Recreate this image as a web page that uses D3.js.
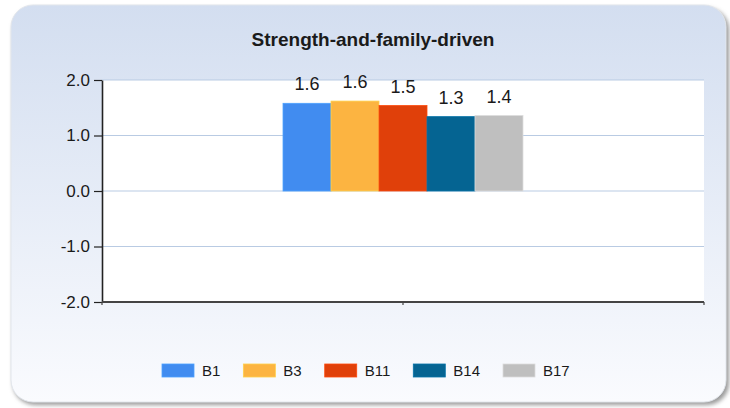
<!DOCTYPE html>
<meta charset="utf-8">
<style>
body { margin: 0; background: #fff; }
svg { display: block; font-family: "Liberation Sans", Arial, sans-serif; }
.grid line { stroke: #b9cbe3; stroke-width: 1px; }
.label { fill: #1a1a1a; }
</style>
<svg width="730" height="408"></svg>
<script src="https://d3js.org/d3.v7.min.js"></script>
<script>

// chart data
var title = "Strength-and-family-driven";
var categories = [""];
var series = ["B1", "B3", "B11", "B14", "B17"];
var values = [1.58, 1.62, 1.54, 1.34, 1.36];
var colors = ["#418cf0", "#fcb441", "#e0400a", "#056492", "#bfbfbf"];
var yTicks = [-2, -1, 0, 1, 2];

var svg = d3.select("svg");

// plain hyphen for negatives, like the original
var fmt = d3.formatLocale({ decimal: ".", thousands: ",", grouping: [3], currency: ["", ""], minus: "-" }).format(".1f");

// panel with gradient + soft shadow
var defs = svg.append("defs");
var grad = defs.append("linearGradient")
    .attr("id", "bg").attr("x1", 0).attr("y1", 0).attr("x2", 0).attr("y2", 1);
grad.append("stop").attr("offset", "0%").attr("stop-color", "#d3def0");
grad.append("stop").attr("offset", "100%").attr("stop-color", "#fafbfe");

var shadow = defs.append("filter").attr("id", "blur")
    .attr("x", "-5%").attr("y", "-5%").attr("width", "110%").attr("height", "110%");
shadow.append("feGaussianBlur").attr("stdDeviation", 2);

svg.append("rect")
    .attr("x", 13).attr("y", 8).attr("width", 716).attr("height", 397)
    .attr("rx", 22).attr("fill", "#9a9a9a").attr("filter", "url(#blur)");
svg.append("rect")
    .attr("x", 11).attr("y", 5).attr("width", 715).attr("height", 397)
    .attr("rx", 22).attr("fill", "url(#bg)")
    .attr("stroke", "#e2e6ec").attr("stroke-width", 1);

// plot area
var plotL = 102, plotR = 704, plotT = 80, plotB = 302;

var y = d3.scaleLinear().domain([-2, 2]).range([plotB, plotT]);
var x0 = d3.scaleBand().domain(categories).range([plotL, plotR])
    .paddingInner(0.43).paddingOuter(0.43);
var x1 = d3.scaleBand().domain(series).range([0, x0.bandwidth()]);

svg.append("rect")
    .attr("x", plotL).attr("y", plotT)
    .attr("width", plotR - plotL).attr("height", plotB - plotT)
    .attr("fill", "#fff");

svg.append("g").attr("class", "grid")
  .selectAll("line")
  .data(yTicks.filter(function(d) { return d > -2; }))
  .enter().append("line")
    .attr("x1", plotL).attr("x2", plotR)
    .attr("y1", function(d) { return y(d); })
    .attr("y2", function(d) { return y(d); });

// bars
var g = svg.append("g")
  .selectAll("g")
  .data(categories)
  .enter().append("g")
    .attr("transform", function(c) { return "translate(" + x0(c) + ",0)"; });

g.selectAll("rect")
  .data(series.map(function(s, i) { return { key: s, value: values[i], color: colors[i] }; }))
  .enter().append("rect")
    .attr("x", function(d) { return x1(d.key); })
    .attr("width", x1.bandwidth())
    .attr("y", function(d) { return y(Math.max(0, d.value)); })
    .attr("height", function(d) { return Math.abs(y(d.value) - y(0)); })
    .attr("fill", function(d) { return d.color; })
    .attr("stroke", function(d) { return d3.color(d.color).brighter(0.4); })
    .attr("stroke-width", 0.8);

g.selectAll("text")
  .data(series.map(function(s, i) { return { key: s, value: values[i] }; }))
  .enter().append("text")
    .attr("class", "label")
    .attr("x", function(d) { return x1(d.key) + x1.bandwidth() / 2; })
    .attr("y", function(d) { return y(d.value) - 13; })
    .attr("text-anchor", "middle")
    .style("font-size", "18px")
    .text(function(d) { return fmt(d.value); });

// y axis
var yAxis = svg.append("g")
    .attr("transform", "translate(" + plotL + ",0)")
    .call(d3.axisLeft(y).tickValues(yTicks).tickFormat(fmt)
      .tickSize(8).tickSizeOuter(0).tickPadding(4));
yAxis.select(".domain").attr("stroke", "#222").attr("stroke-width", 1.6);
yAxis.selectAll(".tick line").attr("stroke", "#222").attr("stroke-width", 1.2);
yAxis.selectAll(".tick text")
    .style("font-size", "17px").attr("fill", "#1a1a1a")
    .attr("font-family", null);

// x axis
var xAxis = svg.append("g")
    .attr("transform", "translate(0," + plotB + ")");
xAxis.append("line")
    .attr("x1", plotL).attr("x2", plotR)
    .attr("stroke", "#444").attr("stroke-width", 2);
var xt = [plotL, plotR].concat(categories.map(function(c) { return x0(c) + x0.bandwidth() / 2; }));
xAxis.selectAll(".xt")
  .data(xt)
  .enter().append("line")
    .attr("x1", function(d) { return d; }).attr("x2", function(d) { return d; })
    .attr("y1", 0).attr("y2", 3)
    .attr("stroke", "#444").attr("stroke-width", 1.2);

// title
svg.append("text")
    .attr("x", 373).attr("y", 46)
    .attr("text-anchor", "middle")
    .style("font-size", "19px").style("font-weight", "bold")
    .attr("fill", "#1a1a1a")
    .text(title);

// legend
var legend = svg.append("g").attr("transform", "translate(0,364)");
var lx = 162;
series.forEach(function(s, i) {
  var item = legend.append("g").attr("transform", "translate(" + lx + ",0)");
  item.append("rect")
      .attr("width", 32).attr("height", 13)
      .attr("fill", colors[i])
      .attr("stroke", d3.color(colors[i]).brighter(0.4)).attr("stroke-width", 0.8);
  var t = item.append("text")
      .attr("x", 40).attr("y", 12)
      .style("font-size", "15px").attr("fill", "#1a1a1a")
      .text(s);
  lx += 40 + t.node().getComputedTextLength() + 23;
});

</script>
